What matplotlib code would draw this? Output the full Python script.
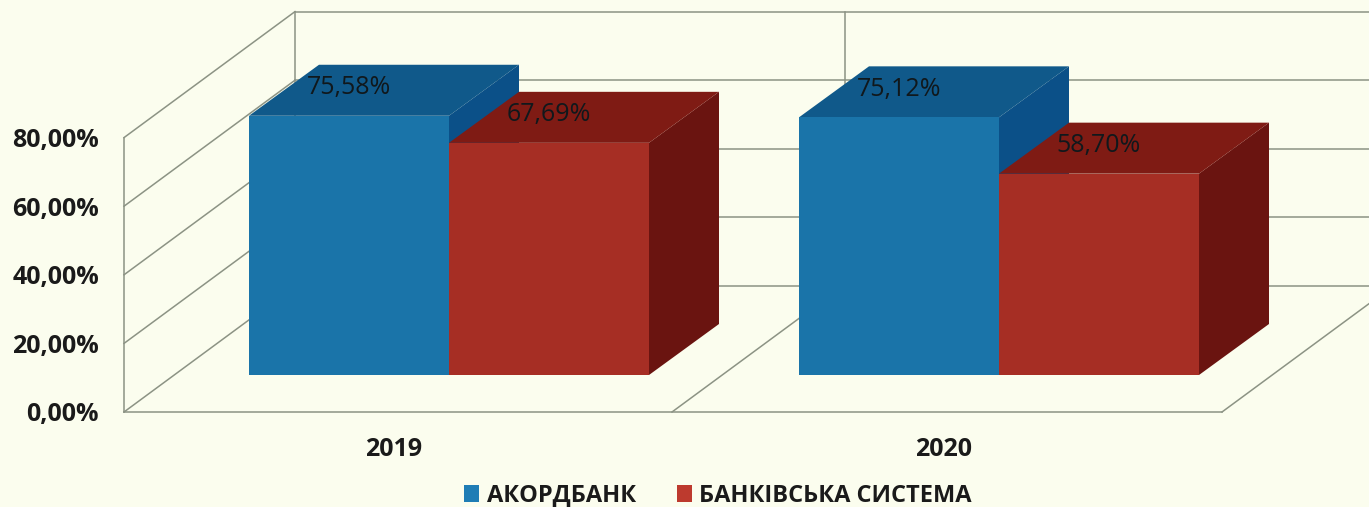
import matplotlib
matplotlib.use('Agg')
import matplotlib.pyplot as plt
from matplotlib.patches import Polygon, Patch

plt.rcParams['font.family'] = ['Open Sans', 'DejaVu Sans']

years = ['2019', '2020']
series_names = ['АКОРДБАНК', 'БАНКІВСЬКА СИСТЕМА']
akord = [75.58, 75.12]
bank_system = [67.69, 58.70]
value_labels = [['75,58%', '75,12%'], ['67,69%', '58,70%']]
tick_values = [0, 20, 40, 60, 80]
tick_labels = ['0,00%', '20,00%', '40,00%', '60,00%', '80,00%']

bg = '#FBFDEE'
grid_color = '#8C9384'
text_color = '#1A1A1A'
front_colors = ['#1A74A9', '#A62E24']
top_colors = ['#10598A', '#7F1B14']
side_colors = ['#0B5088', '#6A1410']
legend_colors = ['#1F7DB5', '#BD3A2E']

# the picture is a fake 3d chart, so work in pixels and project by hand
floor_y = 412
px_per_pct = 3.43
depth_x, depth_y = 171, -126
bar_depth_x, bar_depth_y = 70, -51
bar_base_y = 375
left_x = 124
right_x = 1222
group_starts = [249, 799]
bar_w = 200


def front(x, v):
    return x, floor_y - v * px_per_pct


def back(x, v):
    return x + depth_x, floor_y - v * px_per_pct + depth_y


def draw_bar(ax, x, v, i):
    top = bar_base_y - v * px_per_pct
    dx, dy = bar_depth_x, bar_depth_y
    ax.add_patch(Polygon([(x + bar_w, top), (x + bar_w + dx, top + dy),
                          (x + bar_w + dx, bar_base_y + dy), (x + bar_w, bar_base_y)],
                         fc=side_colors[i], ec='none', zorder=3 + i))
    ax.add_patch(Polygon([(x, top), (x + dx, top + dy), (x + bar_w + dx, top + dy), (x + bar_w, top)],
                         fc=top_colors[i], ec='none', zorder=3 + i))
    ax.add_patch(Polygon([(x, top), (x + bar_w, top), (x + bar_w, bar_base_y), (x, bar_base_y)],
                         fc=front_colors[i], ec='none', zorder=3 + i))


fig = plt.figure(figsize=(13.69, 5.07), dpi=100, facecolor=bg)
ax = fig.add_axes([0, 0, 1, 1])
ax.set_xlim(0, 1369)
ax.set_ylim(507, 0)
ax.axis('off')

# walls and gridlines
line = dict(color=grid_color, lw=1.1, zorder=1)
for v in tick_values:
    x0, y0 = front(left_x, v)
    x1, y1 = back(left_x, v)
    ax.plot([x0, x1], [y0, y1], **line)
    ax.plot([x1, 1369], [y1, y1], **line)
ax.plot([left_x, left_x], [front(left_x, 0)[1], front(left_x, 80)[1]], **line)
ax.plot([left_x + depth_x] * 2, [back(left_x, 0)[1], back(left_x, 80)[1]], **line)
mid_x = 672
ax.plot([mid_x + depth_x + 2] * 2, [back(mid_x, 0)[1], back(mid_x, 80)[1]], **line)
ax.plot([mid_x, mid_x + depth_x], [floor_y, floor_y + depth_y], **line)
ax.plot([left_x, right_x], [floor_y, floor_y], **line)
ax.plot([right_x, 1369], [floor_y, floor_y + depth_y * (1369 - right_x) / depth_x], **line)

# bars
for g, x in enumerate(group_starts):
    draw_bar(ax, x, akord[g], 0)
    draw_bar(ax, x + bar_w, bank_system[g], 1)
    for i, v in enumerate([akord[g], bank_system[g]]):
        ax.text(x + bar_w * i + bar_w / 2, bar_base_y - v * px_per_pct - 28, value_labels[i][g],
                fontsize=18, color='#10181C', ha='center', va='center', zorder=6)
    ax.text(x + bar_w / 2 + 45, 450, years[g], fontsize=18, fontweight='bold', color=text_color,
            ha='center', va='center')

# value axis labels
for v, lab in zip(tick_values, tick_labels):
    ax.text(99, front(left_x, v)[1] + 3, lab, fontsize=18, fontweight='bold', color=text_color,
            ha='right', va='center')

handles = [Patch(fc=c, ec='none') for c in legend_colors]
ax.legend(handles, series_names, ncol=2, loc='center', bbox_to_anchor=(718 / 1369, 1 - 496 / 507),
          frameon=False, handlelength=0.65, handleheight=0.75, handletextpad=0.3, columnspacing=1.75,
          labelcolor=text_color, prop=dict(size=17, weight='bold'))

fig.savefig('out.png', dpi=100, facecolor=bg)
